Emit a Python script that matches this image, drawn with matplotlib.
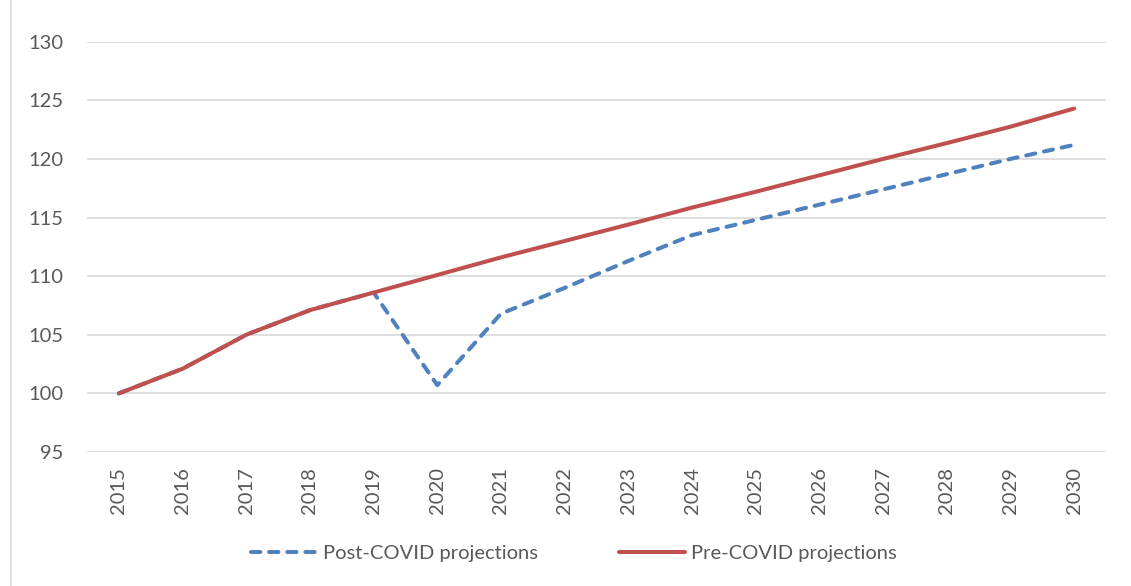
import matplotlib
matplotlib.use("Agg")
import matplotlib.pyplot as plt
from matplotlib.lines import Line2D

years = [str(y) for y in range(2015, 2031)]
post_covid = [100.0, 102.1, 105.0, 107.1, 108.6, 100.7, 106.8, 109.0, 111.3, 113.5,
              114.8, 116.1, 117.4, 118.7, 120.0, 121.2]
pre_covid = [100.0, 102.1, 105.0, 107.1, 108.6, 110.1, 111.6, 113.0, 114.4, 115.85,
             117.2, 118.6, 120.0, 121.35, 122.75, 124.3]
series_labels = ["Post-COVID projections", "Pre-COVID projections"]
y_ticks = [95, 100, 105, 110, 115, 120, 125, 130]

plt.rcParams['font.family'] = ['Lato', 'DejaVu Sans']
text_color = '#595959'

fig = plt.figure(figsize=(11.31, 5.86), dpi=100)
ax = fig.add_axes([87/1131, 1 - 452/586, (1106-87)/1131, (452-41.7)/586])

x = list(range(len(years)))
l1, = ax.plot(x, post_covid, color='#4F81BD', lw=2.9, linestyle=(0, (2.3, 2.2)),
              dash_capstyle='round', solid_joinstyle='round', label=series_labels[0], zorder=3)
l2, = ax.plot(x, pre_covid, color='#C0504D', lw=2.9, solid_capstyle='round',
              solid_joinstyle='round', label=series_labels[1], zorder=4)

ax.set_xlim(-0.5, len(years) - 0.5)
ax.set_ylim(95, 130)
ax.set_yticks(y_ticks)
ax.set_yticklabels([str(t) for t in y_ticks])
ax.set_xticks(x)
ax.set_xticklabels(years, rotation=90)
ax.tick_params(axis='y', length=0, pad=17, labelsize=14.5, labelcolor=text_color)
ax.tick_params(axis='x', length=0, pad=11, labelsize=14.5, labelcolor=text_color)
ax.grid(axis='y', color='#d9d9d9', lw=1.2)
ax.set_axisbelow(True)
for s in ax.spines.values():
    s.set_visible(False)

leg = fig.legend(handles=[l1, l2], loc='center', bbox_to_anchor=(574/1131, 1 - 553/586),
                 ncol=2, frameon=False, fontsize=14.5, handlelength=3.3, handletextpad=0.3,
                 columnspacing=4.0)
for t in leg.get_texts():
    t.set_color(text_color)

fig.add_artist(Line2D([11/1131, 11/1131], [0, 1], transform=fig.transFigure,
                      color='#d9d9d9', lw=1.2))

fig.savefig('out.png', dpi=100)
